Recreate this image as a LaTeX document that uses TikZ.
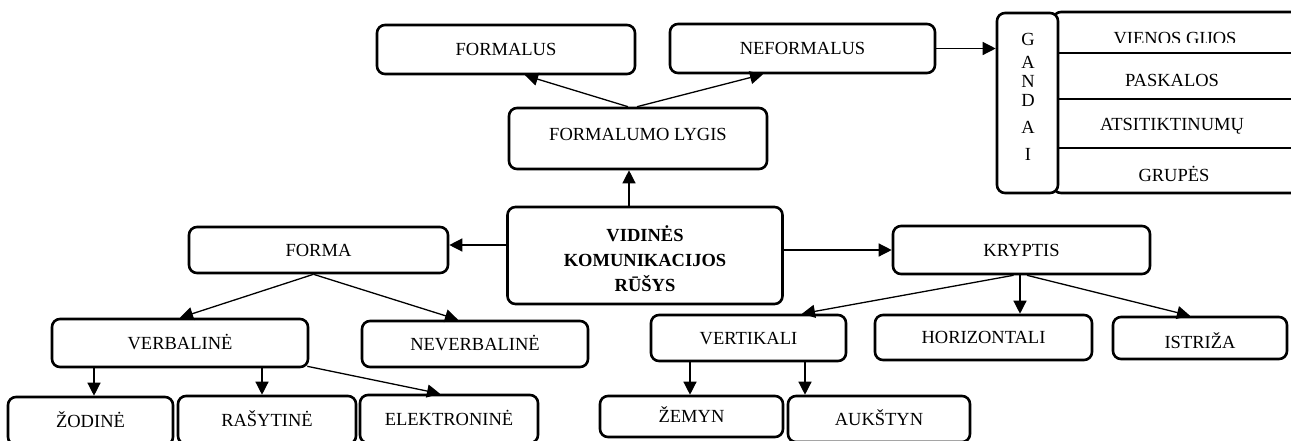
\documentclass[tikz,border=0pt]{standalone}
\usepackage{fontspec}
\setmainfont{Liberation Serif}
\usetikzlibrary{arrows.meta}
\begin{document}
\begin{tikzpicture}[x=1pt,y=-1pt,
  txt/.style={font=\fontsize{18.5}{19}\selectfont},
  box/.style={txt, draw, line width=2.6pt, rounded corners=8pt, fill=white,
              inner sep=0pt, text height=12.2pt, text depth=0pt},
  arr/.style={line width=1.3pt, -{Triangle[length=13pt,width=13pt]}},
  rule/.style={line width=2.9pt},
]
\useasboundingbox (0,0) rectangle (1291,440);
\clip (0,0) rectangle (1291,440);
\fill[white] (0,0) rectangle (1291,440);

% --- top level: degree of formality ---
\node[box, minimum width=258pt, minimum height=49pt] (formalus)   at (506,49.5)  {FORMALUS};
\node[box, minimum width=265pt, minimum height=49pt] (neformalus) at (802.5,48.5) {NEFORMALUS};
\node[box, minimum width=258pt, minimum height=61pt, text depth=9pt] (formalumo) at (638,138.5) {FORMALUMO LYGIS};

% --- rumours: framed list with a vertical title box ---
\draw[line width=2.6pt, rounded corners=8pt] (1053,12) rectangle (1330,193);
\draw[rule] (1056,53) -- (1291,53);
\draw[rule] (1056,99) -- (1291,99);
\draw[rule] (1056,148) -- (1291,148);
\begin{scope}
  \clip (1060,14) rectangle (1291,42.7);
  \node[txt] (vienos) at (1175,38.5) {VIENOS GIJOS};
\end{scope}
\node[txt] (paskalos) at (1172,80) {PASKALOS};
\node[txt] (atsitikt) at (1172,126) {ATSITIKTINUMŲ};
\node[txt] (grupes)   at (1174,174) {GRUPĖS};
\node[box, minimum width=61pt, minimum height=180pt] (gandai) at (1027.5,103) {};
\node[txt, align=center, inner sep=0pt] (gandaitxt) at (1028,97.3)
  {G\\[4pt]A\\N\\D\\[8pt]A\\[8pt]I};

% --- centre ---
\node[box, minimum width=275pt, minimum height=97pt] (vidines) at (645,255.5) {};
\node[txt, font=\fontsize{18.5}{25}\selectfont\bfseries, align=center, inner sep=0pt]
  (vidinestxt) at (645,258.4) {VIDINĖS\\KOMUNIKACIJOS\\RŪŠYS};

% --- form branch ---
\node[box, minimum width=259pt, minimum height=46pt] (forma)       at (318.5,250) {FORMA};
\node[box, minimum width=256pt, minimum height=48pt] (verbaline)   at (180,343)   {VERBALINĖ};
\node[box, minimum width=226pt, minimum height=46pt] (neverbaline) at (475,344)   {NEVERBALINĖ};
\node[box, minimum width=165pt, minimum height=48pt] (zodine)      at (90.5,421)  {ŽODINĖ};
\node[box, minimum width=178pt, minimum height=48pt] (rasytine)    at (267,420)   {RAŠYTINĖ};
\node[box, minimum width=178pt, minimum height=48pt] (elektronine) at (449,419)   {ELEKTRONINĖ};

% --- direction branch ---
\node[box, minimum width=257pt, minimum height=48pt] (kryptis)     at (1021.5,250) {KRYPTIS};
\node[box, minimum width=195pt, minimum height=46pt] (vertikali)   at (748.5,338)  {VERTIKALI};
\node[box, minimum width=217pt, minimum height=45pt] (horizontali) at (983.5,337.5) {HORIZONTALI};
\node[box, minimum width=174pt, minimum height=42pt, text height=20.2pt] (istriza) at (1200,338) {ISTRIŽA};
\node[box, minimum width=183pt, minimum height=41pt] (zemyn)       at (691.5,416.5) {ŽEMYN};
\node[box, minimum width=182pt, minimum height=46pt] (aukstyn)     at (879,419)    {AUKŠTYN};

% --- connectors ---
\draw[arr] ([xshift=-16pt]vidines.north) -- ([xshift=-16pt]vidines.north |- formalumo.south);
\draw[arr] ([xshift=-10pt]formalumo.north) -- ([xshift=19pt]formalus.south);
\draw[arr] ([xshift=-1pt]formalumo.north) -- ([xshift=-39.5pt]neformalus.south);
\draw[arr] (neformalus.east) -- (neformalus.east -| gandai.west);

\draw[arr] ([yshift=5pt]forma.east -| vidines.west) -- ([yshift=5pt]forma.east);
\draw[arr] (kryptis.west -| vidines.east) -- (kryptis.west);

\draw[arr] ([xshift=-5pt]forma.south) -- (verbaline.north);
\draw[arr] ([xshift=-5pt]forma.south) -- ([xshift=-17pt]neverbaline.north);
\draw[arr] ([xshift=-86pt]verbaline.south) -- ([xshift=-86pt]verbaline.south |- zodine.north);
\draw[arr] ([xshift=82pt]verbaline.south) -- ([xshift=82pt]verbaline.south |- rasytine.north);
\draw[arr] ([xshift=-2pt,yshift=2pt]verbaline.south east) -- ([xshift=-9pt]elektronine.north);

\draw[arr] ([xshift=-8pt]kryptis.south) -- ([xshift=53.5pt]vertikali.north);
\draw[arr] ([xshift=-1.5pt]kryptis.south) -- ([xshift=-1.5pt]kryptis.south |- horizontali.north);
\draw[arr] ([xshift=5.5pt]kryptis.south) -- ([xshift=-10pt]istriza.north);
\draw[arr] ([xshift=-58.5pt]vertikali.south) -- ([xshift=-58.5pt]vertikali.south |- zemyn.north);
\draw[arr] ([xshift=56.5pt]vertikali.south) -- ([xshift=56.5pt]vertikali.south |- aukstyn.north);
\end{tikzpicture}
\end{document}
